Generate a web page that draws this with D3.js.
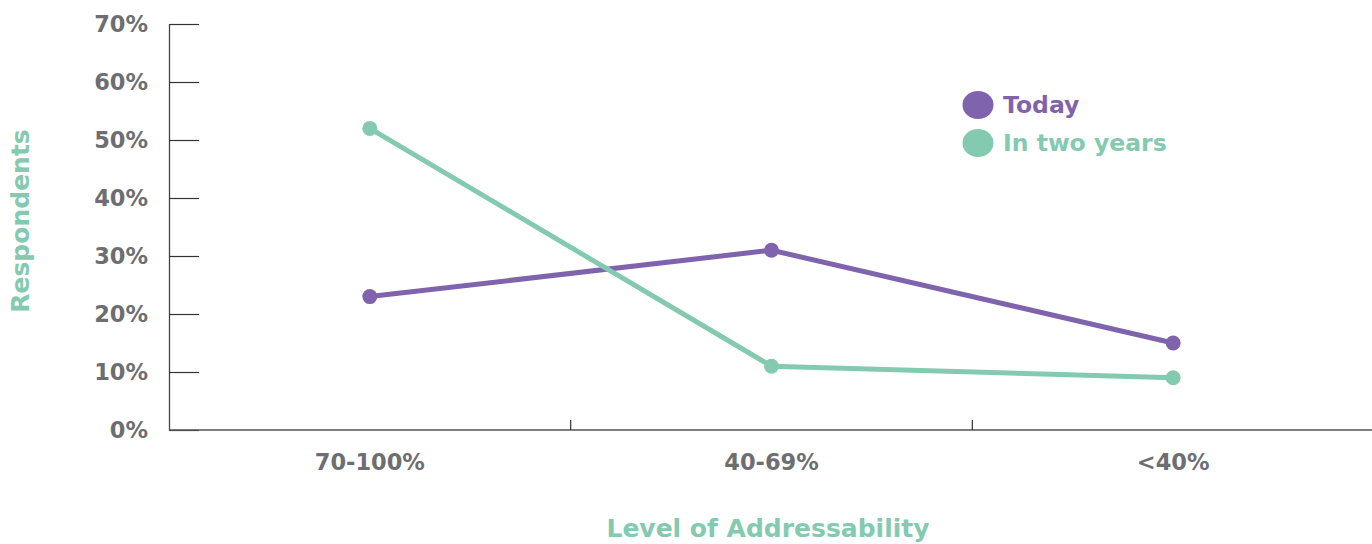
<!DOCTYPE html>
<html>
<head>
<meta charset="utf-8">
<script src="https://cdn.jsdelivr.net/npm/d3@7"></script>
<style>
  html, body { margin: 0; padding: 0; background: #fff; }
  svg { display: block; }
  text { font-family: "DejaVu Sans", "Open Sans", sans-serif; font-weight: bold; }
</style>
</head>
<body>
<svg id="chart" width="1372" height="544"></svg>
<script>
// Share of respondents by level of addressability
const categories = ["70-100%", "40-69%", "<40%"];
const today = [23, 31, 15];
const inTwoYears = [52, 11, 9];
const yTicks = [0, 10, 20, 30, 40, 50, 60, 70];
const seriesNames = ["Today", "In two years"];

const purple = "#7f63ad";
const green = "#84cab0";
const grey = "#6d6e71";

const svg = d3.select("#chart");
const plotLeft = 169, plotRight = 1374, plotTop = 24, plotBottom = 430;

const x = d3.scaleBand().domain(categories).range([plotLeft, plotRight]).padding(0);
const y = d3.scaleLinear().domain([0, 70]).range([plotBottom, plotTop]);

// y axis: ticks point inward (to the right)
const yAxis = svg.append("g").attr("transform", `translate(${plotLeft},0)`)
  .call(d3.axisRight(y).tickValues(yTicks).tickSize(30).tickSizeOuter(0).tickFormat(""));
yAxis.select(".domain").attr("stroke", "#444").attr("stroke-width", 1.3);
yAxis.selectAll(".tick line").attr("stroke", "#333").attr("stroke-width", 1.2);

svg.append("g").selectAll("text").data(yTicks).join("text")
  .attr("x", 148).attr("y", d => y(d) + 8)
  .attr("text-anchor", "end")
  .attr("fill", grey).attr("font-size", 22.5)
  .text(d => d + "%");

// x axis: ticks at band boundaries, pointing up
const xAxisG = svg.append("g").attr("transform", `translate(0,${plotBottom})`);
xAxisG.append("line").attr("x1", plotLeft).attr("x2", 1372).attr("y1", 0).attr("y2", 0)
  .attr("stroke", "#555").attr("stroke-width", 1.5);
xAxisG.selectAll("line.tk").data(categories.slice(1)).join("line").attr("class", "tk")
  .attr("x1", d => x(d)).attr("x2", d => x(d)).attr("y1", 0).attr("y2", -10)
  .attr("stroke", "#333").attr("stroke-width", 1.2);
xAxisG.selectAll("text").data(categories).join("text")
  .attr("x", d => x(d) + x.bandwidth() / 2).attr("y", 40)
  .attr("text-anchor", "middle").attr("fill", grey).attr("font-size", 22.5)
  .text(d => d);

// axis titles
svg.append("text")
  .attr("transform", "translate(29,221) rotate(-90)")
  .attr("text-anchor", "middle").attr("fill", green).attr("font-size", 25)
  .text("Respondents");
svg.append("text")
  .attr("x", 768).attr("y", 537)
  .attr("text-anchor", "middle").attr("fill", green).attr("font-size", 25)
  .text("Level of Addressability");

// series lines and points
const cx = d => x(d) + x.bandwidth() / 2;
const series = [
  { name: seriesNames[0], values: today, color: purple },
  { name: seriesNames[1], values: inTwoYears, color: green }
];
const line = d3.line().x(d => cx(d.cat)).y(d => y(d.v));

series.forEach(s => {
  const pts = categories.map((c, i) => ({ cat: c, v: s.values[i] }));
  svg.append("path").datum(pts)
    .attr("d", line).attr("fill", "none")
    .attr("stroke", s.color).attr("stroke-width", 5).attr("stroke-linejoin", "round");
  svg.append("g").selectAll("circle").data(pts).join("circle")
    .attr("cx", d => cx(d.cat)).attr("cy", d => y(d.v)).attr("r", 7.5)
    .attr("fill", s.color);
});

// legend
const legend = svg.append("g").selectAll("g").data(series).join("g")
  .attr("transform", (d, i) => `translate(978,${105 + i * 38})`);
legend.append("ellipse").attr("rx", 15.5).attr("ry", 14).attr("fill", d => d.color);
legend.append("text").attr("x", 25).attr("y", 8)
  .attr("fill", d => d.color).attr("font-size", 23.5)
  .text(d => d.name);
</script>
</body>
</html>
